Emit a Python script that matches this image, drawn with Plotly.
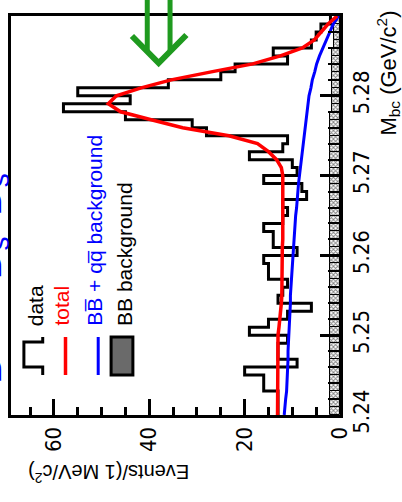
import plotly.graph_objects as go

# ---- data ----
bin_lo = 5.240          # first bin low edge (GeV/c^2)
bin_w = 0.001           # 1 MeV bins
data_counts = [13, 13, 13, 16, 16, 20, 9, 13, 13, 11,
               19, 15, 11, 6, 13, 12, 11, 15, 15, 16,
               9, 14, 14, 16, 12, 11, 12, 7, 8, 16,
               9, 10, 19, 12, 11, 28, 31, 45, 58, 44,
               55, 36, 25, 22, 11, 14, 6, 5, 4, 2]
bb_bkg = [2.2] * 38 + [1.6, 1.6, 1.6, 1.6, 1.6, 1.6, 1.6, 1.6, 1.3, 1.3, 1.3, 0.9]
fit_mbc = [round(5.240 + 0.001 * i, 3) for i in range(51)]
total_fit = [13.1, 13.1, 13.1, 13.1, 13.1, 13.1, 13.1, 13.1, 13.1, 13.1,
             13.0, 12.8, 12.6, 12.4, 12.3, 12.2, 12.2, 12.2, 12.2, 12.1,
             12.1, 12.1, 12.0, 12.0, 12.0, 12.0, 12.0, 12.0, 12.0, 12.0,
             12.0, 12.3, 13.3, 15.0, 17.3, 23.3, 33.0, 39.6, 46.0, 48.6,
             46.9, 41.7, 35.4, 27.0, 18.3, 12.5, 7.9, 5.4, 4.0, 2.5, 0.6]
bkg_fit = [11.7, 11.6, 11.4, 11.2, 11.1, 11.0, 11.0, 10.9, 10.9, 10.8,
           10.8, 10.7, 10.6, 10.5, 10.4, 10.4, 10.3, 10.2, 10.1, 10.0,
           9.8, 9.7, 9.6, 9.5, 9.4, 9.3, 9.1, 9.0, 8.9, 8.7,
           8.5, 8.3, 8.1, 7.9, 7.7, 7.5, 7.3, 7.1, 6.9, 6.7,
           6.5, 6.1, 5.8, 5.3, 4.9, 4.3, 3.6, 2.9, 2.1, 1.4, 0.3]
mbc_ticks = [5.24, 5.25, 5.26, 5.27, 5.28, 5.29]
evt_ticks = [0, 20, 40, 60]

n = len(data_counts)
edges = [bin_lo + bin_w * i for i in range(n + 1)]
centers = [bin_lo + bin_w * (i + 0.5) for i in range(n)]

# ---- layout geometry (pixels) ----
W, H = 402, 502
L, R, T, B = 8, 340, 16, 415


def px(x):
    return (x - L) / (R - L)


def py(y):
    return (B - y) / (B - T)


RED = "#ff0000"
BLUE = "#0000ff"
GREEN = "#1f9a1f"
NARROW = "Liberation Sans Narrow, Arial Narrow, DejaVu Sans Condensed, Liberation Sans, sans-serif"
SANS = "Liberation Sans, Arial, sans-serif"

fig = go.Figure()

fig.add_trace(go.Bar(
    y=centers, x=bb_bkg, orientation="h", width=bin_w,
    marker=dict(color="white", line=dict(color="black", width=1),
                pattern=dict(shape="x", fgcolor="black", bgcolor="white",
                             size=3, solidity=0.5)),
    showlegend=False, hoverinfo="skip"))

fig.add_trace(go.Scatter(
    x=data_counts + [data_counts[-1]], y=edges, mode="lines",
    line=dict(color="black", width=3, shape="vh"), showlegend=False))

fig.add_trace(go.Scatter(
    x=bkg_fit, y=fit_mbc, mode="lines",
    line=dict(color=BLUE, width=3), showlegend=False))

fig.add_trace(go.Scatter(
    x=total_fit, y=fit_mbc, mode="lines",
    line=dict(color=RED, width=3.5), showlegend=False))

fig.update_layout(
    width=W, height=H,
    margin=dict(l=L, r=W - R, t=T, b=H - B, pad=0),
    paper_bgcolor="white", plot_bgcolor="white",
    bargap=0, showlegend=False,
    xaxis=dict(range=[69, 0], tickvals=evt_ticks, ticks="inside", ticklen=16,
               tickwidth=3, tickcolor="black", showgrid=False, zeroline=False,
               showline=True, linewidth=3, linecolor="black", mirror=True,
               tickangle=-90, tickfont=dict(family=NARROW, size=22, color="black"),
               minor=dict(dtick=5, ticks="inside", ticklen=8, tickwidth=3,
                          tickcolor="black", showgrid=False)),
    yaxis=dict(range=[5.24, 5.29], tickvals=mbc_ticks, tickformat=".2f",
               side="right", ticks="inside", ticklen=20, tickwidth=3,
               tickcolor="black", showgrid=False, zeroline=False,
               showline=True, linewidth=3, linecolor="black", mirror=True,
               tickangle=-90, tickfont=dict(family=NARROW, size=22, color="black"),
               minor=dict(dtick=0.002, ticks="inside", ticklen=12, tickwidth=2,
                          tickcolor="black", showgrid=False)),
)

ann = []
# axis titles
ann.append(dict(text="Events/(1 MeV/c<sup>2</sup>)", textangle=180,
                x=px(107), y=py(473), xref="paper", yref="paper",
                xanchor="center", yanchor="middle", showarrow=False,
                font=dict(family=SANS, size=20, color="black")))
ann.append(dict(text="M<sub>bc</sub> (GeV/c<sup>2</sup>)", textangle=-90,
                x=px(388), y=py(73), xref="paper", yref="paper",
                xanchor="center", yanchor="middle", showarrow=False,
                font=dict(family=SANS, size=22, color="black")))
# blue title (mostly cut off at the left edge, as in the reference)
ann.append(dict(text="B<sup>0</sup> → D<sub>s</sub><sup>-</sup> D<sub>s</sub><sup>+</sup>",
                textangle=-90, x=px(14), y=py(270), xref="paper", yref="paper",
                xanchor="right", yanchor="middle", showarrow=False,
                font=dict(family=SANS, size=40, color=BLUE)))
# legend texts
leg = [("data", 33, "black"),
       ("total", 58, RED),
       ("BB\u0305 + qq\u0305 background", 92, BLUE),
       ("BB background", 122, "black")]
for txt, xc, col in leg:
    ann.append(dict(text=txt, textangle=-90, x=px(xc), y=py(328),
                    xref="paper", yref="paper", xanchor="center", yanchor="bottom",
                    showarrow=False, font=dict(family=SANS, size=21, color=col)))
fig.update_layout(annotations=ann)


def path(points):
    return "M " + " L ".join(f"{px(a):.4f},{py(b):.4f}" for a, b in points)


shapes = []
# legend symbols
shapes.append(dict(type="path", xref="paper", yref="paper",
                   path=path([(40, 337), (40, 342), (21, 342), (21, 367), (40, 367), (40, 375)]),
                   line=dict(color="black", width=3)))
shapes.append(dict(type="line", xref="paper", yref="paper",
                   x0=px(63), x1=px(63), y0=py(337), y1=py(375),
                   line=dict(color=RED, width=3.5)))
shapes.append(dict(type="line", xref="paper", yref="paper",
                   x0=px(96), x1=px(96), y0=py(337), y1=py(375),
                   line=dict(color=BLUE, width=3)))
shapes.append(dict(type="rect", xref="paper", yref="paper",
                   x0=px(109), x1=px(131), y0=py(337), y1=py(375),
                   fillcolor="#6a6a6a", line=dict(color="black", width=3)))
# green double arrow
shapes.append(dict(type="line", xref="paper", yref="paper",
                   x0=px(145.5), x1=px(145.5), y0=py(-5), y1=py(50),
                   line=dict(color=GREEN, width=5)))
shapes.append(dict(type="line", xref="paper", yref="paper",
                   x0=px(168.5), x1=px(168.5), y0=py(-5), y1=py(50),
                   line=dict(color=GREEN, width=5)))
shapes.append(dict(type="path", xref="paper", yref="paper",
                   path=path([(130, 36), (157, 63), (185, 35)]),
                   line=dict(color=GREEN, width=6)))
fig.update_layout(shapes=shapes)

fig.write_html("out.html")
